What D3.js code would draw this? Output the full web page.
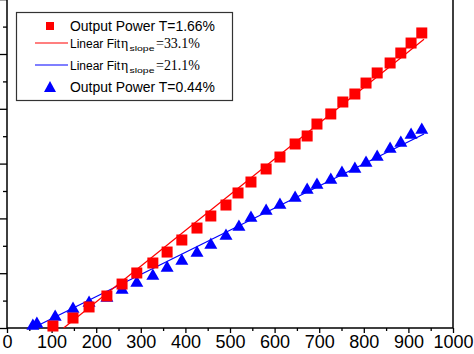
<!DOCTYPE html>
<html lang="en">
<head>
    <meta charset="utf-8">
    <title>Output power</title>
    <script type="text/javascript" src="https://d3js.org/d3.v7.min.js"></script>
    <style type="text/css">
        body { margin: 0; background: #fff; }
        svg { display: block; }
    </style>
</head>
<body>
<script type="text/javascript">

    // Pump power (mW) and output power (mW)
    var red_pump = [103, 148, 184, 224, 258, 291, 327, 359, 392, 426, 457, 491, 518, 547,
        581, 612, 646, 673, 695, 726, 753, 780, 805, 830, 859, 883, 906, 930];
    var red_out = [1.8, 9.1, 19.2, 29.2, 40.1, 50.2, 59.3, 69.3, 80.3, 91.2, 102.2, 112.2, 123.2, 133.2,
        145.1, 156.0, 167.9, 175.2, 186.1, 195.3, 206.2, 213.5, 223.5, 232.7, 241.8, 250.9, 260.0, 269.2];

    var blue_pump = [58, 67, 108, 148, 184, 224, 258, 291, 327, 359, 392, 426, 457, 491, 520,
        547, 581, 612, 646, 673, 695, 726, 751, 780, 805, 830, 859, 883, 906, 930];
    var blue_out = [1.8, 3.6, 10.0, 17.3, 22.8, 27.4, 34.7, 41.1, 47.4, 54.7, 61.1, 68.4, 75.7, 83.9, 92.2,
        100.4, 106.7, 112.2, 118.6, 125.9, 130.5, 135.0, 141.4, 145.1, 150.5, 156.0, 163.3, 168.8, 176.1, 180.7];

    // fit line end points
    var red_fit_x = [127, 935];
    var red_fit_y = [0, 263.5];
    var blue_fit_x = [58, 935];
    var blue_fit_y = [0, 177];

    var x_major = [0, 100, 200, 300, 400, 500, 600, 700, 800, 900, 1000];
    var x_minor = [50, 150, 250, 350, 450, 550, 650, 750, 850, 950];
    var y_major = [0, 50, 100, 150, 200, 250, 300];
    var y_minor = [25, 75, 125, 175, 225, 275];

    var legend_labels = ["Output Power T=1.66%", "Linear Fit", "Linear Fit", "Output Power T=0.44%"];
    var legend_slopes = ["", "=33.1%", "=21.1%", ""];

    var w = 474;
    var h = 354;

    var red = "rgb(255, 0, 0)";
    var blue = "rgb(0, 0, 255)";

    var xScale = d3.scaleLinear().domain([0, 1000]).range([7, 453]);
    var yScale = d3.scaleLinear().domain([0, 300]).range([328, -0.8]);

    var svg = d3.select("body")
        .append("svg")
        .attr("width", w)
        .attr("height", h);

    // axes
    var bottom = svg.append("g")
        .attr("transform", "translate(0,328)")
        .call(d3.axisBottom(xScale).tickValues(x_major).tickSize(5).tickPadding(2).tickFormat(d3.format("d")));
    bottom.selectAll("text")
        .attr("font-family", "Liberation Sans, Arial, sans-serif")
        .attr("font-size", 18)
        .attr("fill", "#000");
    svg.append("g")
        .attr("transform", "translate(0,328)")
        .call(d3.axisBottom(xScale).tickValues(x_minor).tickSize(3).tickFormat(""));

    svg.append("g")
        .attr("transform", "translate(7,0)")
        .call(d3.axisLeft(yScale).tickValues(y_major).tickSize(8).tickFormat(""));
    svg.append("g")
        .attr("transform", "translate(7,0)")
        .call(d3.axisLeft(yScale).tickValues(y_minor).tickSize(4).tickFormat(""));

    svg.selectAll(".domain").remove();
    svg.selectAll(".tick line")
        .attr("stroke", "#000")
        .attr("stroke-width", 1.3);

    // frame (left, bottom, right)
    svg.append("path")
        .attr("d", "M7,-2 V328 H453 V-2")
        .attr("fill", "none")
        .attr("stroke", "#000")
        .attr("stroke-width", 1.5);

    // fit lines
    var line = d3.line()
        .x(function(d) { return xScale(d[0]); })
        .y(function(d) { return yScale(d[1]); });

    svg.append("path")
        .datum(d3.zip(blue_fit_x, blue_fit_y))
        .attr("d", line)
        .attr("fill", "none")
        .attr("stroke", blue)
        .attr("stroke-width", 1.2);

    svg.append("path")
        .datum(d3.zip(red_fit_x, red_fit_y))
        .attr("d", line)
        .attr("fill", "none")
        .attr("stroke", red)
        .attr("stroke-width", 1.2);

    // triangle with its centroid on the point
    function triangle(cx, cy) {
        return "M" + cx + "," + (cy - 7.5) + " L" + (cx + 6.5) + "," + (cy + 3.8) + " L" + (cx - 6.5) + "," + (cy + 3.8) + " Z";
    }

    // blue triangles
    svg.selectAll("path.tri")
        .data(d3.zip(blue_pump, blue_out))
        .enter()
        .append("path")
        .attr("class", "tri")
        .attr("d", function(d) { return triangle(xScale(d[0]), yScale(d[1])); })
        .attr("fill", blue);

    // red squares
    svg.selectAll("rect.sq")
        .data(d3.zip(red_pump, red_out))
        .enter()
        .append("rect")
        .attr("class", "sq")
        .attr("x", function(d) { return xScale(d[0]) - 5.5; })
        .attr("y", function(d) { return yScale(d[1]) - 5.5; })
        .attr("width", 11)
        .attr("height", 11)
        .attr("fill", red);

    // legend
    var legend = svg.append("g");
    legend.append("rect")
        .attr("x", 16.5)
        .attr("y", 12.5)
        .attr("width", 216)
        .attr("height", 88)
        .attr("fill", "#fff")
        .attr("stroke", "#333")
        .attr("stroke-width", 1.2);

    var row_base = [31, 48, 70, 92];

    legend.append("rect")
        .attr("x", 46).attr("y", 22).attr("width", 8).attr("height", 8)
        .attr("fill", red);
    legend.append("line")
        .attr("x1", 35).attr("x2", 68).attr("y1", 43).attr("y2", 43)
        .attr("stroke", red).attr("stroke-width", 1.2);
    legend.append("line")
        .attr("x1", 35).attr("x2", 68).attr("y1", 65).attr("y2", 65)
        .attr("stroke", blue).attr("stroke-width", 1.2);
    legend.append("path")
        .attr("d", "M50,81 L56,92 L44,92 Z")
        .attr("fill", blue);

    legend_labels.forEach(function(label, i) {
        if (legend_slopes[i] === "") {
            legend.append("text")
                .attr("x", 70)
                .attr("y", row_base[i])
                .attr("font-family", "Liberation Sans, Arial, sans-serif")
                .attr("font-size", 14)
                .attr("textLength", 145)
                .attr("lengthAdjust", "spacingAndGlyphs")
                .text(label);
            return;
        }
        legend.append("text")
            .attr("x", 70)
            .attr("y", row_base[i])
            .attr("font-family", "Liberation Sans, Arial, sans-serif")
            .attr("font-size", 12)
            .text(label);
        legend.append("text")
            .attr("x", 121)
            .attr("y", row_base[i])
            .attr("font-family", "Liberation Serif, Times New Roman, serif")
            .attr("font-size", 14)
            .text("\u03b7");
        legend.append("text")
            .attr("x", 129.5)
            .attr("y", row_base[i] + 3)
            .attr("font-family", "Liberation Sans, Arial, sans-serif")
            .attr("font-size", 8)
            .attr("textLength", 25)
            .attr("lengthAdjust", "spacingAndGlyphs")
            .text("slope");
        legend.append("text")
            .attr("x", 156)
            .attr("y", row_base[i])
            .attr("font-family", "Liberation Serif, Times New Roman, serif")
            .attr("font-size", 14)
            .attr("textLength", 44)
            .attr("lengthAdjust", "spacingAndGlyphs")
            .text(legend_slopes[i]);
    });

</script>
</body>
</html>
